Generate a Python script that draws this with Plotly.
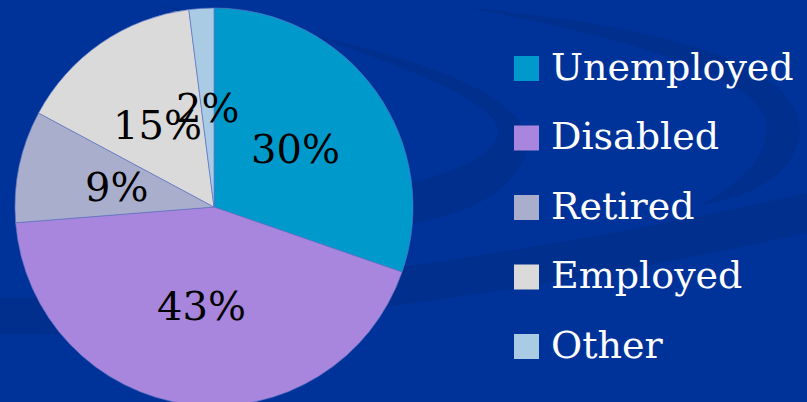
import math
import plotly.graph_objects as go

# Employment status breakdown (percent)
categories = ["Unemployed", "Disabled", "Retired", "Employed", "Other"]
shares = [30, 43, 9, 15, 2]
slice_colors = ["#0099CC", "#A886DE", "#A9AECC", "#DADADA", "#A9CBE3"]

W, H = 807, 414
BG = "#003399"
SWIRL = "#002F8D"
TEXT_FONT = "DejaVu Serif"

# pie geometry in pixels
PIE_LEFT, PIE_TOP, PIE_D = 15, 8, 398
cx = PIE_LEFT + PIE_D / 2
cy = PIE_TOP + PIE_D / 2
R = PIE_D / 2


def px_x(x):
    return x / W


def px_y(y):
    return 1 - y / H


fig = go.Figure()

fig.add_trace(go.Pie(
    labels=categories,
    values=shares,
    marker=dict(colors=slice_colors, line=dict(color="rgba(95,115,195,0.8)", width=0.8)),
    sort=False,
    direction="clockwise",
    rotation=0,
    textinfo="none",
    hoverinfo="label+value",
    showlegend=False,
    domain=dict(x=[px_x(PIE_LEFT), px_x(PIE_LEFT + PIE_D)],
                y=[px_y(PIE_TOP + PIE_D), px_y(PIE_TOP)]),
))

# percentage labels at half radius along each slice's mid-angle
annotations = []
total = sum(shares)
cum = 0
for val in shares:
    mid = 2 * math.pi * (cum + val / 2) / total
    cum += val
    lx = cx + 0.5 * R * math.sin(mid)
    ly = cy - 0.5 * R * math.cos(mid)
    annotations.append(dict(
        x=px_x(lx), y=px_y(ly), xref="paper", yref="paper",
        text=f"{val}%", showarrow=False, xanchor="center", yanchor="middle",
        font=dict(family=TEXT_FONT, size=40, color="black"),
    ))

# legend: square swatch + label per category
shapes = []
LEG_X, LEG_Y0, LEG_STEP, SW = 514, 56, 69.5, 25
for i, (name, col) in enumerate(zip(categories, slice_colors)):
    y0 = LEG_Y0 + i * LEG_STEP
    shapes.append(dict(
        type="rect", xref="paper", yref="paper",
        x0=px_x(LEG_X), x1=px_x(LEG_X + SW), y0=px_y(y0 + SW), y1=px_y(y0),
        fillcolor=col, line=dict(width=0), layer="above",
    ))
    annotations.append(dict(
        x=px_x(LEG_X + SW + 10), y=px_y(y0 + SW / 2 - 2), xref="paper", yref="paper",
        text=name, showarrow=False, xanchor="left", yanchor="middle",
        font=dict(family=TEXT_FONT, size=38, color="white"),
    ))

# background swirls
swirl_paths = [
    # crescent curving round to the right of the pie
    "M 150,4 Q 560,70 524,158 Q 500,215 380,228 L 214,250 L 214,200 "
    "L 380,190 Q 488,168 498,135 Q 505,100 330,42 Z",
    # crescent on the upper right
    "M 470,8 Q 805,40 800,135 Q 790,190 700,205 Q 775,165 765,118 Q 745,60 470,8 Z",
    # diagonal band
    "M 0,297 C 200,300 500,262 807,193 L 807,233 C 500,300 200,336 0,335 Z",
]


def to_paper_path(p):
    out = []
    for tok in p.split():
        if "," in tok:
            a, b = tok.split(",")
            out.append(f"{px_x(float(a)):.5f},{px_y(float(b)):.5f}")
        else:
            out.append(tok)
    return " ".join(out)


for p in swirl_paths:
    shapes.insert(0, dict(
        type="path", xref="paper", yref="paper", path=to_paper_path(p),
        fillcolor=SWIRL, line=dict(width=0), layer="below",
    ))

fig.update_layout(
    width=W, height=H,
    margin=dict(l=0, r=0, t=0, b=0),
    paper_bgcolor=BG,
    plot_bgcolor=BG,
    shapes=shapes,
    annotations=annotations,
)

fig.write_html(
    "out.html",
    post_script="document.body.style.margin='0';document.body.style.overflow='hidden';"
                "document.documentElement.style.overflow='hidden';",
)
